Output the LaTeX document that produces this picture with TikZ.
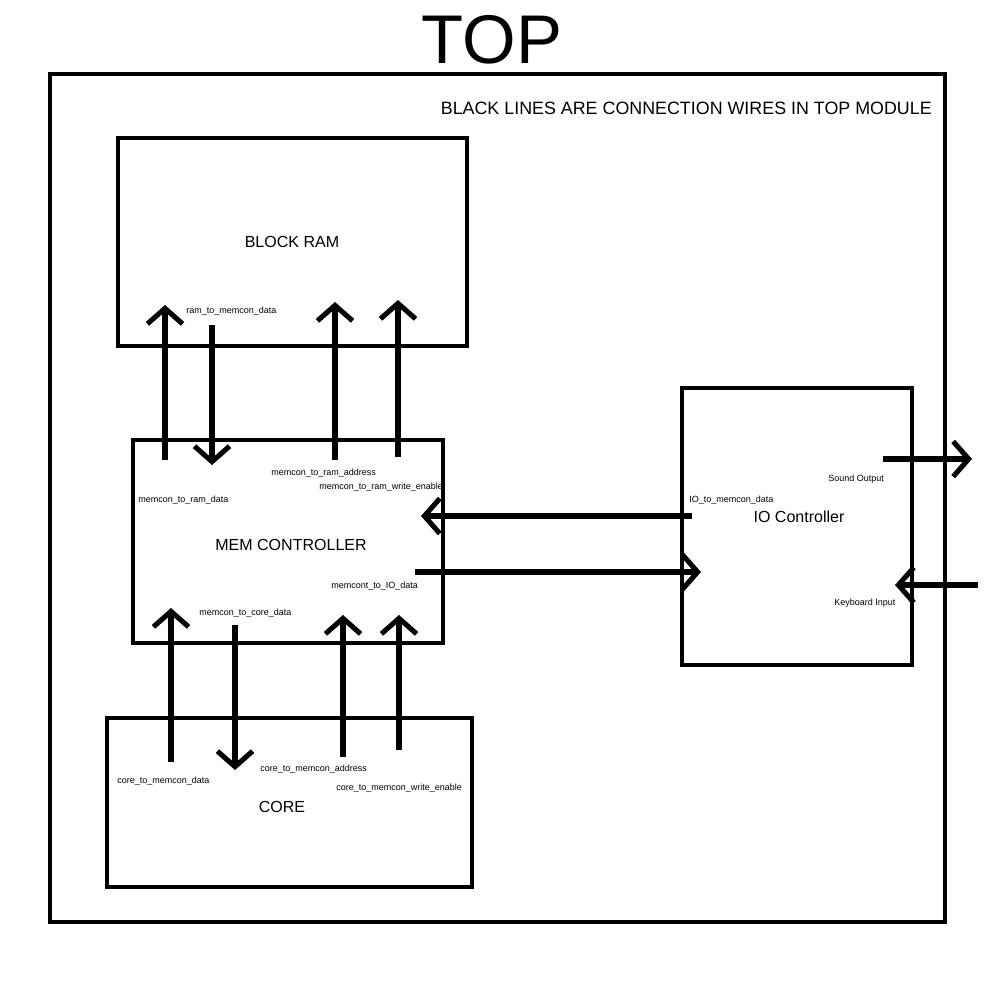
\documentclass[tikz,border=0pt]{standalone}
\usepackage{fontspec}
\setmainfont{Liberation Sans}
\usetikzlibrary{arrows.meta}
\begin{document}
\begin{tikzpicture}[x=0.025cm,y=-0.025cm,
  box/.style={draw,line width=2.6pt,inner sep=0pt},
  wire/.style={line width=3.6pt,-{Straight Barb[length=11pt,width=25pt,line width=3.6pt]}},
  small/.style={font=\fontsize{6.4pt}{7pt}\selectfont,inner sep=0pt,anchor=west},
  big/.style={font=\fontsize{11.4pt}{13pt}\selectfont,inner sep=0pt},
  title/.style={font=\fontsize{49pt}{55pt}\selectfont,inner sep=0pt}]
\useasboundingbox (0,0) rectangle (1000,1000);
% title and outer box
\node[title] (ttl) at (492,40) {TOP};
\node[box,line width=3pt,minimum width=22.375cm,minimum height=21.2cm] (top) at (497.5,498) {};
\node[font=\fontsize{12.7pt}{14pt}\selectfont,inner sep=0pt,anchor=east] (note) at (932,108) {BLACK LINES ARE CONNECTION WIRES IN TOP MODULE};
% boxes
\node[box,minimum width=8.725cm,minimum height=5.2cm] (ram) at (292.5,242) {};
\node[box,minimum width=7.75cm,minimum height=5.075cm] (mem) at (288,541.5) {};
\node[box,minimum width=9.125cm,minimum height=4.225cm] (core) at (289.5,802.5) {};
\node[box,minimum width=5.75cm,minimum height=6.925cm] (io) at (797,526.5) {};
% box labels
\node[big] (ramlbl) at (292,242) {BLOCK RAM};
\node[big] (memlbl) at (291,545) {MEM CONTROLLER};
\node[big] (corelbl) at (282,807) {CORE};
\node[big] (iolbl) at (799,517) {IO Controller};
% wire labels
\node[small] (l1) at (186,311) {ram\_to\_memcon\_data};
\node[small] (l2) at (138,500) {memcon\_to\_ram\_data};
\node[small] (l3) at (271,473) {memcon\_to\_ram\_address};
\node[small] (l4) at (319,487) {memcon\_to\_ram\_write\_enable};
\node[small] (l5) at (331,586) {memcont\_to\_IO\_data};
\node[small] (l6) at (199,613) {memcon\_to\_core\_data};
\node[small] (l7) at (117,781) {core\_to\_memcon\_data};
\node[small] (l8) at (260,769) {core\_to\_memcon\_address};
\node[small] (l9) at (336,788) {core\_to\_memcon\_write\_enable};
\node[small] (l10) at (689,500) {IO\_to\_memcon\_data};
\node[small] (l11) at (828,479) {Sound Output};
\node[small] (l12) at (834,603) {Keyboard Input};
% wire end points
\coordinate (w1s) at (165,460); \coordinate (w1e) at (165,305);
\coordinate (w2s) at (212,325); \coordinate (w2e) at (212,465);
\coordinate (w3s) at (335,460); \coordinate (w3e) at (335,302);
\coordinate (w4s) at (398,457); \coordinate (w4e) at (398,300);
\coordinate (w5s) at (171,762); \coordinate (w5e) at (171,608);
\coordinate (w6s) at (235,625); \coordinate (w6e) at (235,770);
\coordinate (w7s) at (343,757); \coordinate (w7e) at (343,615);
\coordinate (w8s) at (399,750); \coordinate (w8e) at (399,615);
\coordinate (w9s) at (692,516); \coordinate (w9e) at (421,516);
\coordinate (w10s) at (415,572); \coordinate (w10e) at (701,572);
\coordinate (w11s) at (883,459); \coordinate (w11e) at (972,459);
\coordinate (w12s) at (978,585); \coordinate (w12e) at (895,585);
\foreach \i in {1,...,12} {\draw[wire] (w\i s) -- (w\i e);}
\end{tikzpicture}
\end{document}
